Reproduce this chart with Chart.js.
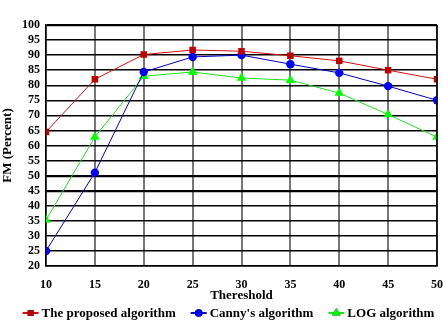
<!DOCTYPE html>
<html>
<head>
<meta charset="utf-8">
<script src="https://cdn.jsdelivr.net/npm/chart.js@4"></script>
<style>
html,body{margin:0;padding:0;background:#fff;}
#wrap{width:443px;height:326px;}
</style>
</head>
<body>
<div id="wrap"><canvas id="fm"></canvas></div>
<script>
// thresholds on the x axis
const thresholds = [10, 15, 20, 25, 30, 35, 40, 45, 50];
// FM (percent) for each method
const proposed = [64.5, 82, 90.2, 91.7, 91.3, 89.8, 88.1, 85, 82];
const canny = [25, 51, 84.4, 89.4, 90, 87, 84.1, 79.7, 75];
const logAlg = [35.3, 62.8, 83, 84.4, 82.4, 81.7, 77.4, 70.3, 62.8];
const seriesNames = ["The proposed algorithm", "Canny's algorithm", "LOG algorithm"];

const serif = "'Liberation Serif', 'DejaVu Serif', serif";
const font = { family: serif, weight: 'bold', size: 12 };
const titleFont = { family: serif, weight: 'bold', size: 13 };

function pts(vals){ return thresholds.map((t,i)=>({x:t, y:vals[i]})); }

const colors = [
  { line:'#d01010', fill:'#c00000', shape:'rect', r:4.6 },
  { line:'#0000c0', fill:'#0000ff', shape:'circle', r:4.2 },
  { line:'#20e020', fill:'#00ff00', shape:'triangle', r:5.5 }
];
const seriesData = [proposed, canny, logAlg];

// excel-like legend under the axis: short line with the marker on it
const legendLine = {
  id:'legendLine',
  afterDraw(chart){
    const c = chart.ctx, y = 313, sw = 16, gap = 3, space = 15;
    c.save();
    c.font = 'bold 13px ' + serif;
    c.textBaseline = 'middle';
    const widths = chart.data.datasets.map(d => sw + gap + c.measureText(d.label).width);
    const total = widths.reduce((a,b)=>a+b,0) + space*(widths.length-1);
    let x = (chart.width - total)/2 + 7;
    chart.data.datasets.forEach((d,i)=>{
      const st = colors[i];
      c.strokeStyle = st.line; c.lineWidth = 2;
      c.beginPath(); c.moveTo(x, y); c.lineTo(x+sw, y); c.stroke();
      Chart.helpers.drawPoint(c, { pointStyle: st.shape, radius: st.r*0.9, borderWidth:0 }, x+sw/2, y);
      c.fillStyle = st.fill; c.fill();
      c.fillStyle = '#000';
      c.fillText(d.label, x+sw+gap, y+1);
      x += widths[i] + space;
    });
    c.restore();
  }
};

const rightBorder = {
  id:'rightBorder',
  afterDraw(chart){
    const a = chart.chartArea, c = chart.ctx;
    c.save(); c.strokeStyle='#000'; c.lineWidth=1.5;
    c.beginPath(); c.moveTo(a.right, a.top); c.lineTo(a.right, a.bottom); c.stroke();
    c.restore();
  }
};

new Chart(document.getElementById('fm'), {
  type: 'line',
  data: {
    datasets: seriesData.map((vals,i)=>({
      label: seriesNames[i], data: pts(vals),
      borderColor: colors[i].line, backgroundColor: colors[i].fill,
      borderWidth: 1, pointStyle: colors[i].shape, pointRadius: colors[i].r, pointBorderWidth: 0
    }))
  },
  options: {
    responsive:true, maintainAspectRatio:false, animation:false,
    layout:{ padding:{ top:25, right:6, left:0, bottom:23 } },
    scales: {
      x: {
        type:'linear', min:10, max:50,
        ticks:{ stepSize:5, color:'#000', font:font, padding:12 },
        grid:{ color:'#777', lineWidth:2, drawTicks:false },
        border:{ color:'#000', width:1.5 },
        title:{ display:true, text:'Thereshold', color:'#000', font:titleFont, padding:{top:0,bottom:0} },
        afterFit: s => { s.height = 37; s.paddingLeft = 0; s.paddingRight = 0; }
      },
      y: {
        min:20, max:100,
        ticks:{ stepSize:5, autoSkip:false, color:'#000', font:font, padding:6 },
        grid:{ color:'#000', drawTicks:false,
          lineWidth: c => (c.tick && (c.tick.value===100 || c.tick.value===50 || c.tick.value===45)) ? 2.2 : 1.5 },
        border:{ color:'#000', width:1.5 },
        title:{ display:true, text:'FM (Percent)', color:'#000', font:titleFont, padding:{top:0,bottom:2} },
        afterFit: s => { s.width = 46; }
      }
    },
    plugins: {
      legend:{ display:false },
      tooltip:{ enabled:false }
    }
  },
  plugins:[rightBorder, legendLine]
});
</script>
</body>
</html>
